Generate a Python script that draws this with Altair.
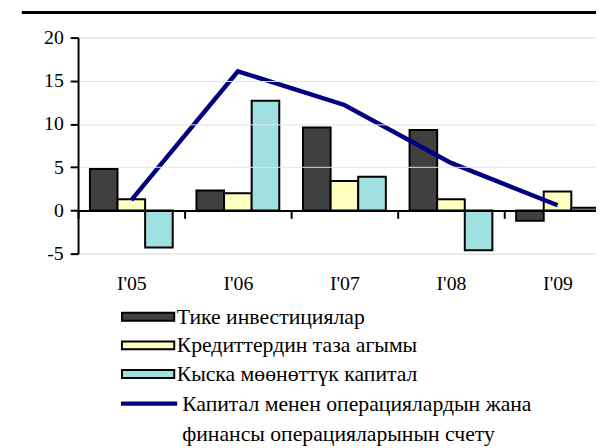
import altair as alt
import pandas as pd

quarters = ["I'05", "I'06", "I'07", "I'08", "I'09"]
series = ["Тике инвестициялар", "Кредиттердин таза агымы", "Кыска мөөнөттүк капитал"]
direct_inv = [4.8, 2.3, 9.6, 9.3, -1.2]
net_credit = [1.3, 2.0, 3.4, 1.3, 2.2]
short_cap = [-4.3, 12.7, 3.9, -4.6, 0.3]
line_name = "Капитал менен операциялардын жана финансы операцияларынын счету"
line_vals = [1.2, 16.1, 12.2, 5.5, 0.6]
bar_colors = ["#404040", "#FFFFC0", "#A0E0E0"]
line_color = "#000080"
y_ticks = [-5, 0, 5, 10, 15, 20]

FONT = "'Liberation Serif', 'Times New Roman', 'DejaVu Serif', serif"

rows = []
for s, vals in zip(series, [direct_inv, net_credit, short_cap]):
    for q, v in zip(quarters, vals):
        rows.append({"q": q, "s": s, "v": v})
bars_df = pd.DataFrame(rows)
line_df = pd.DataFrame({"q": quarters, "v": line_vals, "name": [line_name] * len(quarters)})

x_scale = alt.Scale(domain=quarters, range=[0, 540], paddingInner=0, paddingOuter=0)
y_scale = alt.Scale(domain=[-5, 20], nice=False)

x_axis = alt.Axis(
    orient="bottom", offset=-43.8, title=None, labelAngle=0, grid=False,
    domainColor="black", domainWidth=2, tickColor="black", tickWidth=2,
    tickSize=8, tickBand="extent", labelPadding=56, labelFont=FONT,
    labelFontSize=20, labelColor="black", zindex=1,
)
y_axis = alt.Axis(
    values=y_ticks, title=None, domainColor="black", domainWidth=2,
    tickColor="black", tickWidth=2, tickSize=8, labelPadding=7,
    labelFont=FONT, labelFontSize=20, labelColor="black",
    labelExpr="'' + datum.value",
    gridColor="#e4e4e4", gridWidth=1, zindex=1,
)

bars = alt.Chart(bars_df).mark_bar(stroke="black", strokeWidth=2).encode(
    x=alt.X("q:N", sort=quarters, scale=x_scale, axis=x_axis),
    xOffset=alt.XOffset("s:N", sort=series,
                        scale=alt.Scale(domain=series, paddingOuter=0.43, paddingInner=0)),
    y=alt.Y("v:Q", scale=y_scale, axis=y_axis),
    fill=alt.Fill("s:N", sort=series,
                  scale=alt.Scale(domain=series, range=bar_colors),
                  legend=alt.Legend(
                      orient="none", legendX=43.5, legendY=273, title=None,
                      symbolType="M-1,-0.151L1,-0.151L1,0.151L-1,0.151Z",
                      symbolSize=2809, symbolStrokeColor="black",
                      symbolStrokeWidth=2, symbolOpacity=1, clipHeight=20,
                      labelFont=FONT, labelFontSize=22, labelColor="black",
                      labelOffset=1.5, rowPadding=7, padding=0, labelLimit=500,
                  )),
)

line = alt.Chart(line_df).mark_line(strokeWidth=4.5).encode(
    x=alt.X("q:N", sort=quarters, scale=x_scale),
    y=alt.Y("v:Q", scale=y_scale),
    stroke=alt.Stroke("name:N",
                      scale=alt.Scale(domain=[line_name], range=[line_color]),
                      legend=alt.Legend(
                          orient="none", legendX=41, legendY=361, title=None,
                          symbolType="stroke", symbolSize=3249,
                          symbolStrokeWidth=4.5, clipHeight=20,
                          labelFont=FONT, labelFontSize=22, labelColor="black",
                          labelOffset=2.5, padding=0, labelLimit=600,
                          labelExpr="['Капитал менен операциялардын жана', 'финансы операцияларынын счету']",
                      )),
)

top_rule = alt.Chart(pd.DataFrame({"a": [0]})).mark_rule(
    color="black", strokeWidth=3, clip=False
).encode(x=alt.value(-57), x2=alt.value(530), y=alt.value(-25.5))

chart = alt.layer(bars, line, top_rule).properties(
    width=525, height=219,
    autosize=alt.AutoSizeParams(type="none"),
    padding={"top": 27, "left": 71, "right": 0, "bottom": 194},
).configure_view(stroke=None).configure(
    style={"guide-label": {"lineHeight": 31}}
)

chart.save("out.html", embed_options={"renderer": "svg", "actions": False})
